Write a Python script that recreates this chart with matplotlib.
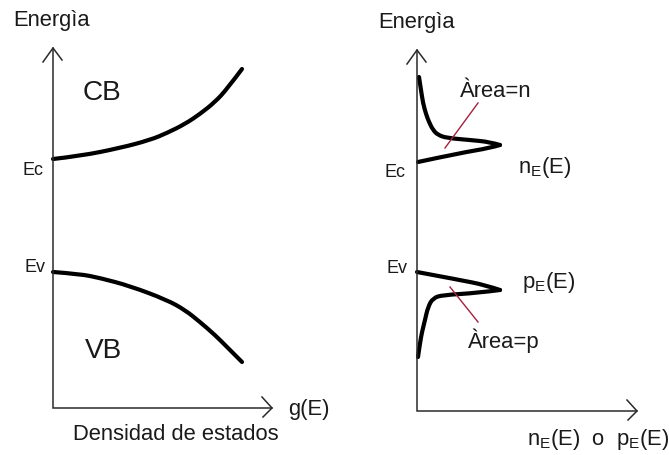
import matplotlib
matplotlib.use("Agg")
import matplotlib.pyplot as plt
from matplotlib.path import Path
from matplotlib.patches import PathPatch

plt.rcParams['font.family'] = ['Liberation Sans', 'DejaVu Sans']
plt.rcParams['mathtext.fontset'] = 'custom'
plt.rcParams['mathtext.rm'] = 'Liberation Sans'
plt.rcParams['mathtext.it'] = 'Liberation Sans'

# curves traced in figure pixels (x to the right, y downwards)
cb_x = [53, 80, 120, 150, 167, 185, 200, 215, 227, 242]
cb_y = [159, 156, 148, 140, 133, 124, 114, 102, 89, 69]

vb_x = [53, 80, 100, 130, 167, 185, 200, 215, 228, 242]
vb_y = [272, 274, 278, 286, 300, 310, 322, 335, 348, 362]

# density curves, split at the peak so the tip stays sharp
ne_top_x = [419, 421, 423, 426, 429, 433, 438, 447, 470, 490, 500]
ne_top_y = [77, 90, 103, 114, 122, 130, 135, 138, 140, 142, 145]
ne_low_x = [500, 490, 460, 418]
ne_low_y = [145, 148, 153, 162]

pe_top_x = [417, 460, 485, 500]
pe_top_y = [272, 280, 285, 290]
pe_low_x = [500, 477, 443, 433, 428, 425, 422, 420, 418]
pe_low_y = [290, 293, 295, 298, 307, 320, 332, 343, 357]

lead_n_x = [478, 445]
lead_n_y = [103, 148]
lead_p_x = [450, 478]
lead_p_y = [287, 322]

txt = '#1a1a1a'
axc = '#2a2a2a'
red = '#a3223c'

fig = plt.figure(figsize=(6.69, 4.55), dpi=100)
ax = fig.add_axes([0, 0, 1, 1])
ax.set_xlim(0, 669)
ax.set_ylim(455, 0)
ax.axis('off')


def axes_frame(x0, ytop, ybot, xright):
    ax.plot([x0, x0, xright], [ytop, ybot, ybot], color=axc, lw=1.1,
            solid_joinstyle='miter')
    # open chevrons at the ends
    ax.plot([x0 - 10, x0, x0 + 9], [ytop + 14, ytop, ytop + 12], color=axc, lw=1.1)
    ax.plot([xright - 10, xright, xright - 9], [ybot - 11, ybot, ybot + 9],
            color=axc, lw=1.1)


def smooth_curve(xs, ys):
    # quadratic b-spline style path: traced points act as control points
    pts = list(zip(xs, ys))
    verts = [pts[0]]
    codes = [Path.MOVETO]
    if len(pts) == 2:
        verts.append(pts[1])
        codes.append(Path.LINETO)
    for i in range(1, len(pts) - 1):
        if i == len(pts) - 2:
            end = pts[-1]
        else:
            end = ((pts[i][0] + pts[i + 1][0]) / 2, (pts[i][1] + pts[i + 1][1]) / 2)
        verts += [pts[i], end]
        codes += [Path.CURVE3, Path.CURVE3]
    ax.add_patch(PathPatch(Path(verts, codes), facecolor='none', edgecolor='black',
                           lw=3.0, capstyle='round', joinstyle='round'))


axes_frame(53, 48, 408, 272)
axes_frame(417, 50, 411, 637)

for xs, ys in [(cb_x, cb_y), (vb_x, vb_y), (ne_top_x, ne_top_y),
               (ne_low_x, ne_low_y), (pe_top_x, pe_top_y), (pe_low_x, pe_low_y)]:
    smooth_curve(xs, ys)

ax.plot(lead_n_x, lead_n_y, color=red, lw=1.0)
ax.plot(lead_p_x, lead_p_y, color=red, lw=1.0)

big = 15.8
ax.text(13, 26, 'Energìa', fontsize=big, color=txt, va='baseline')
ax.text(378, 28, 'Energìa', fontsize=big, color=txt, va='baseline')
ax.text(83, 100, 'CB', fontsize=20.2, color=txt, va='baseline')
ax.text(85, 358, 'VB', fontsize=20.2, color=txt, va='baseline')
ax.text(22, 175, 'Ec', fontsize=13, color=txt, va='baseline')
ax.text(25, 272, 'Ev', fontsize=13, color=txt, va='baseline')
ax.text(385, 177, 'Ec', fontsize=13, color=txt, va='baseline')
ax.text(387, 273, 'Ev', fontsize=13, color=txt, va='baseline')
ax.text(288, 415, 'g(E)', fontsize=big, color=txt, va='baseline')
ax.text(73, 440, 'Densidad de estados', fontsize=big, color=txt, va='baseline')
ax.text(460, 97, 'Àrea=n', fontsize=big, color=txt, va='baseline')
ax.text(468, 348, 'Àrea=p', fontsize=big, color=txt, va='baseline')
ax.text(518, 173, r'n$_\mathrm{E}$(E)', fontsize=big, color=txt, va='baseline')
ax.text(522, 288, r'p$_\mathrm{E}$(E)', fontsize=big, color=txt, va='baseline')
ax.text(527, 445, r'n$_\mathrm{E}$(E)  o  p$_\mathrm{E}$(E)', fontsize=big,
        color=txt, va='baseline')

fig.savefig('out.png', dpi=100)
